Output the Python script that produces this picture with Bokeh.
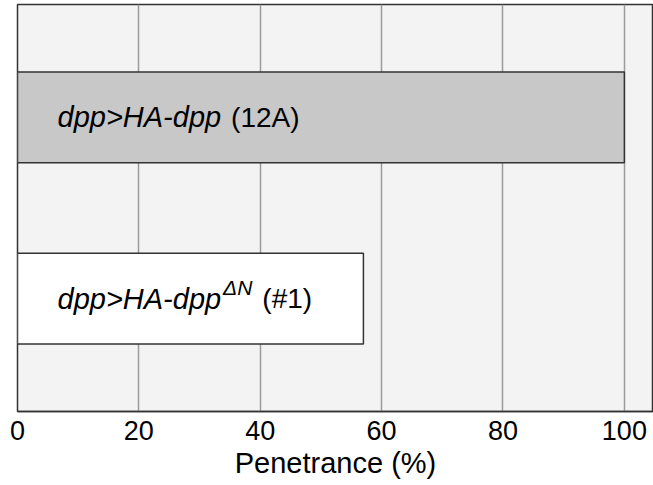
from bokeh.plotting import figure
from bokeh.models import ColumnDataSource, FactorRange, Range1d, FixedTicker
from bokeh.core.properties import value
from bokeh.embed import file_html
from bokeh.resources import INLINE

# ---- data ----
categories = ["dpp>HA-dpp (12A)", "dpp>HA-dppΔN (#1)"]
penetrance = [100, 57]
italic_part = ["dpp>HA-dpp", "dpp>HA-dpp"]
super_part = ["", "ΔN"]
plain_part = ["(12A)", "(#1)"]
x_ticks = [0, 20, 40, 60, 80, 100]
x_label = "Penetrance (%)"

# ---- style ----
FONT = "Liberation Sans"
bar_colors = ["#c8c8c8", "#ffffff"]
ITAL_SIZE = 29
PLAIN_SIZE = 28
SUP_SIZE = 21
TEXT_X0 = 40  # px from left edge of frame
GAP = 10

# Arial-metric widths (per 1000 em)
W = {"d": 556, "p": 556, ">": 584, "H": 722, "A": 667, "-": 333, " ": 278,
     "(": 333, ")": 333, "1": 556, "2": 556, "#": 556, "Δ": 668, "N": 722}


def width(s, size):
    return sum(W.get(c, 556) for c in s) * size / 1000.0


sup_off = []
plain_off = []
for it, sp in zip(italic_part, super_part):
    w_it = width(it, ITAL_SIZE)
    sup_off.append(TEXT_X0 + w_it + 2)
    w_sp = width(sp, SUP_SIZE) + (2 if sp else 0)
    plain_off.append(TEXT_X0 + w_it + w_sp + GAP)

src = ColumnDataSource(dict(cat=categories, val=penetrance, color=bar_colors,
                            ital=italic_part, sup=super_part, plain=plain_part,
                            sup_off=sup_off, plain_off=plain_off))

p = figure(y_range=FactorRange(factors=categories[::-1], range_padding=0.1226,
                               range_padding_units="absolute"),
           x_range=Range1d(0, 104.8),
           frame_width=636, frame_height=407,
           output_backend="svg", toolbar_location=None,
           min_border_left=17, min_border_right=0, min_border_top=4, min_border_bottom=0)

p.background_fill_color = "#f3f3f3"
p.border_fill_color = "white"
p.outline_line_color = "#333333"
p.outline_line_width = 1.5

p.xgrid.grid_line_color = "#9a9a9a"
p.xgrid.grid_line_width = 1.5
p.ygrid.visible = False
p.yaxis.visible = False

p.xaxis.ticker = FixedTicker(ticks=x_ticks)
p.xaxis.axis_label = x_label
p.xaxis.axis_label_text_font = FONT
p.xaxis.axis_label_text_font_size = "29px"
p.xaxis.axis_label_text_font_style = "normal"
p.xaxis.axis_label_text_color = "black"
p.xaxis.axis_label_standoff = 4
p.xaxis.major_label_text_font = FONT
p.xaxis.major_label_text_font_size = "27px"
p.xaxis.major_label_text_color = "black"
p.xaxis.major_label_standoff = 3
p.xaxis.major_tick_line_color = None
p.xaxis.minor_tick_line_color = None
p.xaxis.axis_line_color = "#333333"
p.xaxis.axis_line_width = 1.5

p.hbar(y="cat", left=0, right="val", height=0.5, fill_color="color",
       line_color="#333333", line_width=1.5, source=src)

p.text(x=0, y="cat", text="ital", x_offset=TEXT_X0, text_font=value(FONT),
       text_font_style="italic", text_font_size=f"{ITAL_SIZE}px",
       text_baseline="middle", text_color="black", source=src)
p.text(x=0, y="cat", text="sup", x_offset="sup_off", y_offset=-11, text_font=value(FONT),
       text_font_style="italic", text_font_size=f"{SUP_SIZE}px",
       text_baseline="middle", text_color="black", source=src)
p.text(x=0, y="cat", text="plain", x_offset="plain_off", text_font=value(FONT),
       text_font_style="normal", text_font_size=f"{PLAIN_SIZE}px",
       text_baseline="middle", text_color="black", source=src)

open("out.html", "w").write(file_html(p, INLINE))
